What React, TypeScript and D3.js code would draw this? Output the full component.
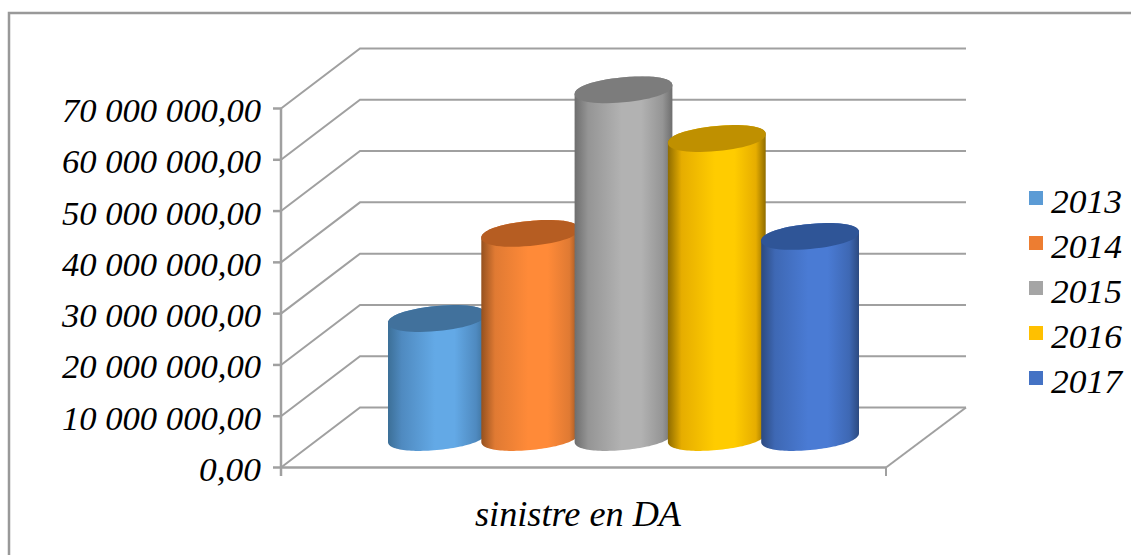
import React from "react";
import * as d3 from "d3";

const years = ["2013", "2014", "2015", "2016", "2017"];
const sinistre = [23200000, 39800000, 67800000, 58300000, 39200000];
const yTicks = [0, 10000000, 20000000, 30000000, 40000000, 50000000, 60000000, 70000000];
const tickLabels = ["0,00", "10 000 000,00", "20 000 000,00", "30 000 000,00", "40 000 000,00", "50 000 000,00", "60 000 000,00", "70 000 000,00"];
const legendColors = ["#5b9bd5", "#ed7d31", "#a5a5a5", "#ffc000", "#4472c4"];
const topColors = ["#41719c", "#b65d22", "#7c7c7c", "#bf9000", "#2f5597"];
const edgeColors = ["#3c6f97", "#95511f", "#6e6e6e", "#8f6c00", "#2c4a80"];
const midColors = ["#4f8ac0", "#e07a33", "#959595", "#e6ad00", "#3e68b4"];
const lightColors = ["#63a9e6", "#ff8a38", "#b2b2b2", "#ffcc00", "#4a7bd4"];
const axisTitle = "sinistre en DA";

const FONT = "'Liberation Serif', serif";
const GRID = "#a0a0a0";

const y = d3.scaleLinear().domain([0, 70000000]).range([467.5, 108.5]);
const x = d3.scaleBand().domain(years).range([388, 854.5]).paddingInner(0).paddingOuter(0);
const depthX = 79;
const depthY = 60;
const barLift = 30;
const barOverlap = 4.5;
const floorLeft = 281;
const floorRight = 886;

const shear = 0.09;
const ry = 12.5;
const roundness = 2.15;

// Rim of a cylinder cap: a slightly squared, sheared ellipse, walked from angle a0 to a1.
function rim(cx: number, cy: number, rx: number, a0: number, a1: number): [number, number][] {
  return d3.range(0, 61).map((k) => {
    const t = a0 + ((a1 - a0) * k) / 60;
    const c = Math.cos(t);
    const s = Math.sin(t);
    const px = rx * Math.sign(c) * Math.pow(Math.abs(c), 2 / roundness);
    const py = ry * Math.sign(s) * Math.pow(Math.abs(s), 2 / roundness);
    return [cx + px, cy + py - shear * px];
  });
}

const line = d3.line();

export default function App() {
  const barW = x.bandwidth() + barOverlap;
  const rx = barW / 2;
  return (
    <svg
      width={1131}
      height={555}
      style={{ position: "absolute", left: 0, top: 0, background: "#fff" }}
      fontFamily={FONT}
    >
      <defs>
        {years.map((yr, i) => (
          <linearGradient id={`g${yr}`} key={yr} x1="0" x2="1" y1="0" y2="0">
            <stop offset="0" stopColor={edgeColors[i]} />
            <stop offset="0.14" stopColor={midColors[i]} />
            <stop offset="0.48" stopColor={lightColors[i]} />
            <stop offset="0.68" stopColor={lightColors[i]} />
            <stop offset="0.9" stopColor={midColors[i]} />
            <stop offset="1" stopColor={edgeColors[i]} />
          </linearGradient>
        ))}
      </defs>

      <path d="M1131,13 H9 V555" fill="none" stroke="#999" strokeWidth={2.5} />

      {yTicks.map((t, i) => {
        const yy = y(t);
        return (
          <g key={t}>
            <polyline
              points={`${floorLeft},${yy} ${floorLeft + depthX},${yy - depthY} ${floorRight + depthX + 1},${yy - depthY}`}
              fill="none"
              stroke={GRID}
              strokeWidth={2}
            />
            <line x1={273} x2={floorLeft} y1={yy} y2={yy} stroke={GRID} strokeWidth={2.5} />
            <text
              x={261}
              y={yy + 13.5}
              textAnchor="end"
              fontSize={33}
              fontStyle="italic"
              fill="#000"
              textLength={i === 0 ? 62 : 199}
              lengthAdjust="spacingAndGlyphs"
            >
              {tickLabels[i]}
            </text>
          </g>
        );
      })}

      <line x1={floorLeft} x2={floorLeft} y1={y(70000000)} y2={476} stroke={GRID} strokeWidth={2.5} />
      <line x1={floorLeft} x2={floorRight} y1={y(0)} y2={y(0)} stroke={GRID} strokeWidth={2.5} />
      <line x1={floorRight} x2={floorRight} y1={y(0)} y2={476} stroke={GRID} strokeWidth={2} />
      <line x1={floorRight} x2={floorRight + depthX + 1} y1={y(0)} y2={y(0) - depthY} stroke={GRID} strokeWidth={2} />

      {years.map((yr, i) => {
        const cx = (x(yr) as number) + barW / 2;
        const top = y(sinistre[i]) - barLift;
        const bottom = y(0) - barLift;
        // Body: bottom rim from right end to left end, then the top rim back over.
        const bodyPts = [
          ...rim(cx, bottom, rx, 0, Math.PI),
          ...rim(cx, top, rx, Math.PI, 2 * Math.PI),
        ];
        const capPts = rim(cx, top, rx, 0, 2 * Math.PI);
        return (
          <g key={yr}>
            <path d={(line(bodyPts) as string) + "Z"} fill={`url(#g${yr})`} />
            <path d={(line(capPts) as string) + "Z"} fill={topColors[i]} />
          </g>
        );
      })}

      <text x={475} y={526} fontSize={35} fontStyle="italic" fill="#000" textLength={206} lengthAdjust="spacingAndGlyphs">
        {axisTitle}
      </text>

      {years.map((yr, i) => (
        <g key={yr}>
          <rect x={1029} y={191 + i * 45} width={14} height={14} fill={legendColors[i]} />
          <text x={1051} y={213 + i * 45} fontSize={34} fontStyle="italic" fill="#000" textLength={71} lengthAdjust="spacingAndGlyphs">
            {yr}
          </text>
        </g>
      ))}
    </svg>
  );
}
